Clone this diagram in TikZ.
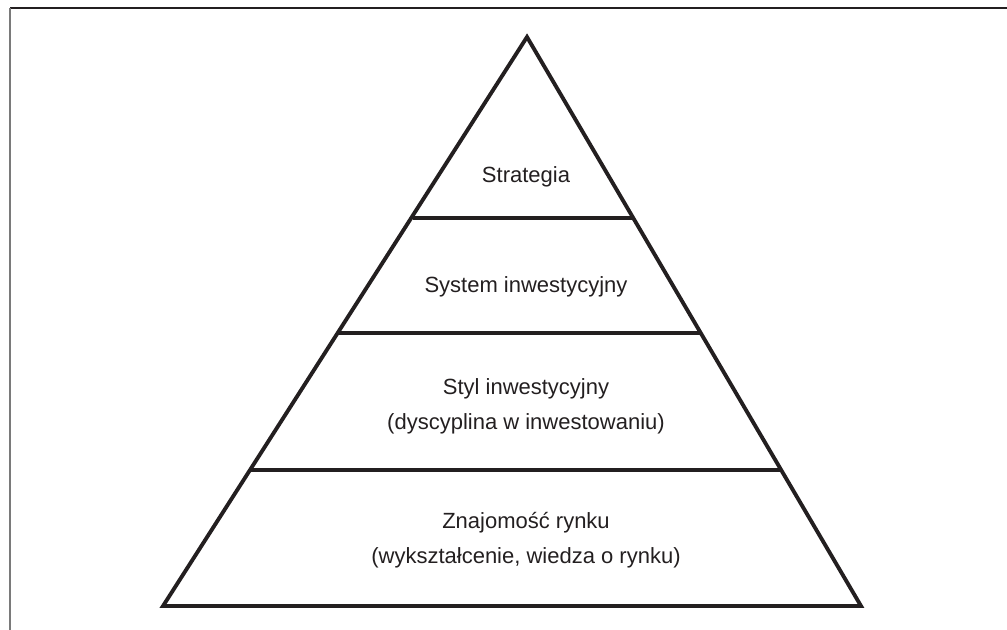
\documentclass[tikz,border=0pt]{standalone}
\usepackage{fontspec}
\setmainfont{Liberation Sans}
\definecolor{ink}{HTML}{231F20}
\definecolor{edge}{HTML}{7A7A7A}
\begin{document}
\begin{tikzpicture}[x=0.75pt,y=-0.75pt,
  outline/.style={draw=ink,line width=2.9pt,line join=miter},
  level/.style={draw=ink,line width=2.6pt},
  label/.style={text=ink,font=\fontsize{16.5}{26}\selectfont,align=center,inner sep=0pt}]
\useasboundingbox (0,0) rectangle (1007,630);
% page frame
\draw[ink,line width=1.1pt] (10,8) -- (1007,8);
\draw[edge,line width=1.4pt] (10,8) -- (10,630);
% pyramid corners
\coordinate (apex) at (527,37);
\coordinate (bl) at (163,606);
\coordinate (br) at (861,606);
% level boundaries on the sides
\coordinate (l1) at (413,218); \coordinate (r1) at (633,218);
\coordinate (l2) at (338,333); \coordinate (r2) at (702,333);
\coordinate (l3) at (250,470); \coordinate (r3) at (782,470);
\draw[outline] (apex) -- (br) -- (bl) -- cycle;
\draw[level] (l1) -- (r1);
\draw[level] (l2) -- (r2);
\draw[level] (l3) -- (r3);
% level captions
\node[label] (t1) at (526,177) {Strategia};
\node[label] (t2) at (526,287) {System inwestycyjny};
\node[label] (t3) at (526,406) {Styl inwestycyjny\\(dyscyplina w inwestowaniu)};
\node[label] (t4) at (526,540) {Znajomość rynku\\(wykształcenie, wiedza o rynku)};
\end{tikzpicture}
\end{document}
